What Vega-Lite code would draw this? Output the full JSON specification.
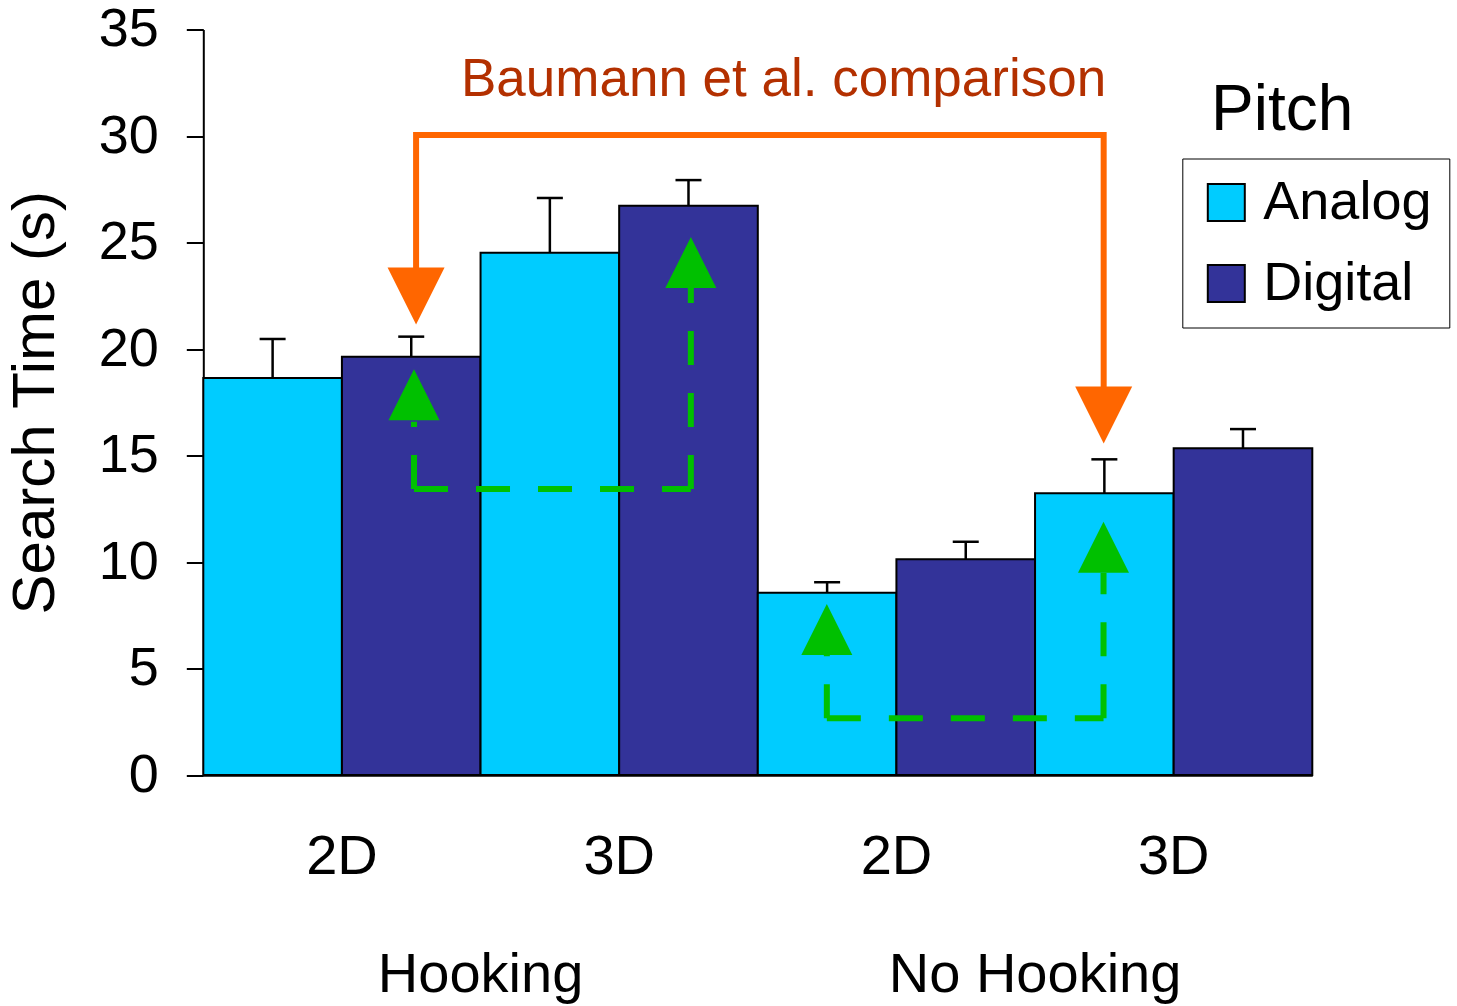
{
  "$schema": "https://vega.github.io/schema/vega-lite/v6.json",
  "width": 1109,
  "height": 745.5,
  "autosize": {"type": "none"},
  "padding": {"left": 203.3, "top": 29.5, "right": 144.7, "bottom": 231},
  "background": "white",
  "config": {
    "font": "Liberation Sans",
    "view": {"stroke": null},
    "axis": {"domainColor": "black", "tickColor": "black", "labelColor": "black", "titleColor": "black", "grid": false}
  },
  "datasets": {
    "bars": [
      {"condition": "Hooking 2D", "pitch": "Analog", "mean": 18.64, "upper": 20.47},
      {"condition": "Hooking 2D", "pitch": "Digital", "mean": 19.64, "upper": 20.58},
      {"condition": "Hooking 3D", "pitch": "Analog", "mean": 24.52, "upper": 27.09},
      {"condition": "Hooking 3D", "pitch": "Digital", "mean": 26.73, "upper": 27.93},
      {"condition": "No Hooking 2D", "pitch": "Analog", "mean": 8.56, "upper": 9.05},
      {"condition": "No Hooking 2D", "pitch": "Digital", "mean": 10.13, "upper": 10.95},
      {"condition": "No Hooking 3D", "pitch": "Analog", "mean": 13.23, "upper": 14.82},
      {"condition": "No Hooking 3D", "pitch": "Digital", "mean": 15.34, "upper": 16.24}
    ],
    "orangePath": [
      {"i": 0, "x": 1.535, "y": 23.8},
      {"i": 1, "x": 1.535, "y": 30.05},
      {"i": 2, "x": 6.495, "y": 30.05},
      {"i": 3, "x": 6.495, "y": 18.22}
    ],
    "orangeHeads": [
      {"x": 1.535, "y": 22.49},
      {"x": 6.495, "y": 16.9}
    ],
    "greenSegments": [
      {"seg": "h1", "i": 0, "x": 1.52, "y": 13.43},
      {"seg": "h1", "i": 1, "x": 1.52, "y": 16.59},
      {"seg": "h2", "i": 0, "x": 1.52, "y": 13.43},
      {"seg": "h2", "i": 1, "x": 3.517, "y": 13.43},
      {"seg": "h3", "i": 0, "x": 3.517, "y": 13.43},
      {"seg": "h3", "i": 1, "x": 3.517, "y": 22.86},
      {"seg": "n1", "i": 0, "x": 4.498, "y": 2.66},
      {"seg": "n1", "i": 1, "x": 4.498, "y": 5.63},
      {"seg": "n2", "i": 0, "x": 4.498, "y": 2.66},
      {"seg": "n2", "i": 1, "x": 6.494, "y": 2.66},
      {"seg": "n3", "i": 0, "x": 6.494, "y": 2.66},
      {"seg": "n3", "i": 1, "x": 6.494, "y": 9.5}
    ],
    "greenHeads": [
      {"x": 1.52, "y": 17.85},
      {"x": 3.517, "y": 24.06},
      {"x": 4.498, "y": 6.83},
      {"x": 6.494, "y": 10.69}
    ],
    "note": [{"x": 4.186, "y": 31.88, "text": "Baumann et al. comparison"}],
    "legendTitle": [{"x": 7.27, "y": 30.28, "text": "Pitch"}],
    "groups": [
      {"x": 2, "y": -10.19, "text": "Hooking"},
      {"x": 6, "y": -10.19, "text": "No Hooking"}
    ]
  },
  "layer": [
    {
      "data": {"name": "bars"},
      "layer": [
        {
          "mark": {"type": "bar", "stroke": "black", "strokeWidth": 2},
          "encoding": {
            "x": {
              "field": "condition", "type": "nominal",
              "scale": {"paddingInner": 0, "paddingOuter": 0},
              "axis": {"title": null, "labelExpr": "slice(datum.label, -2)", "ticks": false, "labelPadding": 54, "labelFontSize": 56, "labelAngle": 0, "domainWidth": 2.5, "labelBaseline": "top"}
            },
            "xOffset": {"field": "pitch", "type": "nominal", "scale": {"paddingInner": 0, "paddingOuter": 0}},
            "y": {
              "field": "mean", "type": "quantitative",
              "scale": {"domain": [0, 35], "nice": false},
              "axis": {"title": "Search Time (s)", "values": [0, 5, 10, 15, 20, 25, 30, 35], "tickSize": 17, "tickWidth": 2, "domainWidth": 2, "labelFontSize": 54, "labelPadding": 28, "titleFontSize": 60, "titleFontWeight": "normal", "titlePadding": 32}
            },
            "color": {
              "field": "pitch", "type": "nominal",
              "scale": {"domain": ["Analog", "Digital"], "range": ["#00CCFF", "#333399"]},
              "legend": {"title": null, "orient": "none", "legendX": 979, "legendY": 129, "padding": 17, "symbolType": "square", "symbolSize": 1369, "symbolStrokeColor": "black", "symbolStrokeWidth": 2, "symbolOpacity": 1, "labelFontSize": 54, "labelOffset": 10, "labelLimit": 400, "labelColor": "black", "rowPadding": 27, "strokeColor": "black"}
            }
          }
        },
        {
          "mark": {"type": "rule", "color": "black", "strokeWidth": 2.5},
          "encoding": {
            "x": {"field": "condition", "type": "nominal"},
            "xOffset": {"field": "pitch", "type": "nominal"},
            "y": {"field": "mean", "type": "quantitative", "scale": {"domain": [0, 35], "nice": false}},
            "y2": {"field": "upper"}
          }
        },
        {
          "mark": {"type": "tick", "orient": "horizontal", "color": "black", "size": 26, "thickness": 2.5, "opacity": 1},
          "encoding": {
            "x": {"field": "condition", "type": "nominal"},
            "xOffset": {"field": "pitch", "type": "nominal"},
            "y": {"field": "upper", "type": "quantitative", "scale": {"domain": [0, 35], "nice": false}}
          }
        }
      ]
    },
    {
      "layer": [
        {
          "data": {"name": "orangePath"},
          "mark": {"type": "line", "color": "#FF6600", "strokeWidth": 6, "strokeJoin": "miter", "strokeCap": "butt"},
          "encoding": {
            "x": {"field": "x", "type": "quantitative", "scale": {"domain": [0, 8], "nice": false, "zero": false}, "axis": null},
            "y": {"field": "y", "type": "quantitative", "scale": {"domain": [0, 35], "nice": false}},
            "order": {"field": "i"}
          }
        },
        {
          "data": {"name": "orangeHeads"},
          "mark": {"type": "point", "shape": "M-1,-1L1,-1L0,1Z", "size": 3249, "filled": true, "color": "#FF6600", "opacity": 1, "strokeWidth": 0},
          "encoding": {
            "x": {"field": "x", "type": "quantitative", "scale": {"domain": [0, 8], "nice": false, "zero": false}, "axis": null},
            "y": {"field": "y", "type": "quantitative", "scale": {"domain": [0, 35], "nice": false}}
          }
        },
        {
          "data": {"name": "greenSegments"},
          "mark": {"type": "line", "color": "#00C000", "strokeWidth": 6, "strokeDash": [34, 28], "strokeCap": "butt"},
          "encoding": {
            "x": {"field": "x", "type": "quantitative", "scale": {"domain": [0, 8], "nice": false, "zero": false}, "axis": null},
            "y": {"field": "y", "type": "quantitative", "scale": {"domain": [0, 35], "nice": false}},
            "detail": {"field": "seg"},
            "order": {"field": "i"}
          }
        },
        {
          "data": {"name": "greenHeads"},
          "mark": {"type": "point", "shape": "M0,-1L1,1L-1,1Z", "size": 2601, "filled": true, "color": "#00C000", "opacity": 1, "strokeWidth": 0},
          "encoding": {
            "x": {"field": "x", "type": "quantitative", "scale": {"domain": [0, 8], "nice": false, "zero": false}, "axis": null},
            "y": {"field": "y", "type": "quantitative", "scale": {"domain": [0, 35], "nice": false}}
          }
        },
        {
          "data": {"name": "note"},
          "mark": {"type": "text", "fontSize": 53, "color": "#B33000", "align": "center", "baseline": "alphabetic"},
          "encoding": {
            "x": {"field": "x", "type": "quantitative", "scale": {"domain": [0, 8], "nice": false, "zero": false}, "axis": null},
            "y": {"field": "y", "type": "quantitative", "scale": {"domain": [0, 35], "nice": false}},
            "text": {"field": "text"}
          }
        },
        {
          "data": {"name": "legendTitle"},
          "mark": {"type": "text", "fontSize": 64, "color": "black", "align": "left", "baseline": "alphabetic"},
          "encoding": {
            "x": {"field": "x", "type": "quantitative", "scale": {"domain": [0, 8], "nice": false, "zero": false}, "axis": null},
            "y": {"field": "y", "type": "quantitative", "scale": {"domain": [0, 35], "nice": false}},
            "text": {"field": "text"}
          }
        },
        {
          "data": {"name": "groups"},
          "mark": {"type": "text", "fontSize": 56, "color": "black", "align": "center", "baseline": "alphabetic"},
          "encoding": {
            "x": {"field": "x", "type": "quantitative", "scale": {"domain": [0, 8], "nice": false, "zero": false}, "axis": null},
            "y": {"field": "y", "type": "quantitative", "scale": {"domain": [0, 35], "nice": false}},
            "text": {"field": "text"}
          }
        }
      ]
    }
  ],
  "resolve": {"scale": {"x": "independent"}, "axis": {"x": "independent"}}
}
